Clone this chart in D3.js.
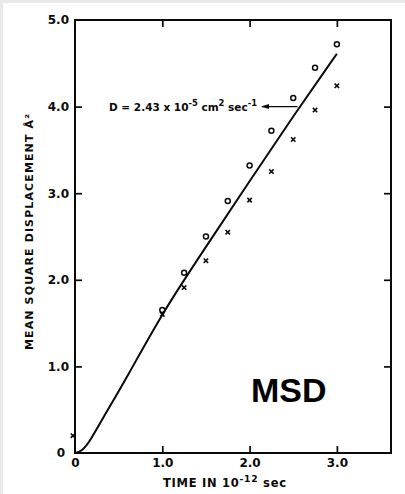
<!DOCTYPE html>
<html>
<head>
<meta charset="utf-8">
<script src="https://cdn.jsdelivr.net/npm/d3@7"></script>
<style>
  html, body { margin: 0; padding: 0; background: #ffffff; }
  svg { display: block; }
</style>
</head>
<body>
<svg id="chart" width="405" height="494"></svg>
<script>
// Mean square displacement vs. time (t in 10^-12 s, MSD in Å^2)
const sampleTimes = [1.0, 1.25, 1.5, 1.75, 2.0, 2.25, 2.5, 2.75, 3.0];
const msdCircles  = [1.65, 2.08, 2.50, 2.91, 3.32, 3.72, 4.10, 4.45, 4.72];
const msdCrosses  = [1.60, 1.91, 2.22, 2.55, 2.92, 3.25, 3.62, 3.96, 4.24];
const crossExtraTime = [0];
const crossExtraMsd  = [0.2];

// smooth computed curve
const curveTime = [0, 0.08, 0.18, 0.3, 0.6, 1.0, 1.5, 2.0, 2.5, 3.0];
const curveMsd  = [0, 0.02, 0.15, 0.37, 0.88, 1.62, 2.38, 3.14, 3.89, 4.61];

const xTickValues = [0, 1, 2, 3];
const xTickLabels = ["0", "1.0", "2.0", "3.0"];
const yTickValues = [0, 1, 2, 3, 4, 5];
const yTickLabels = ["0", "1.0", "2.0", "3.0", "4.0", "5.0"];

const xTitleParts = [["TIME  IN  10", 0], ["-12", 1], [" sec", 0]];
const yTitle = "MEAN  SQUARE  DISPLACEMENT  \u00C5\u00B2";
const noteParts = [["D = 2.43 x 10", 0], ["-5", 1], ["  cm", 0], ["2", 1], [" sec", 0], ["-1", 1]];
const noteTime = 2.55, noteMsd = 4.0;
const badge = "MSD";

const svg = d3.select("#chart");
const W = 405, H = 494;
const plotLeft = 75, plotRight = 391, plotTop = 20, plotBottom = 453;

// page edge
svg.append("rect").attr("x", 0).attr("y", 0).attr("width", W).attr("height", H).attr("fill", "#e9e9e9");
svg.append("rect").attr("x", 3).attr("y", 3).attr("width", W - 3).attr("height", H - 3).attr("fill", "#ffffff");

const x = d3.scaleLinear().domain([0, 3.62]).range([plotLeft, plotRight]);
const y = d3.scaleLinear().domain([0, 5]).range([plotBottom, plotTop]);

const ink = "#0a0a0a";
const tickFont = "DejaVu Sans, sans-serif";

function styleAxis(g) {
  g.select(".domain").remove();
  g.selectAll(".tick line").attr("stroke", ink).attr("stroke-width", 1.7);
  g.selectAll(".tick text").attr("fill", ink).style("font-family", tickFont)
    .style("font-size", "12px").style("font-weight", "bold");
}

// bottom axis with labels
svg.append("g").attr("transform", `translate(0,${plotBottom})`)
  .call(d3.axisBottom(x).tickValues(xTickValues).tickSizeInner(-7).tickSizeOuter(0).tickPadding(5)
    .tickFormat((d, i) => xTickLabels[i]))
  .call(styleAxis)
  .call(g => g.selectAll(".tick").filter(d => d === 0).select("line").remove());

// left axis with labels
svg.append("g").attr("transform", `translate(${plotLeft},0)`)
  .call(d3.axisLeft(y).tickValues(yTickValues).tickSizeInner(-7).tickSizeOuter(0).tickPadding(6)
    .tickFormat((d, i) => yTickLabels[i]))
  .call(styleAxis)
  .call(g => g.selectAll(".tick").filter(d => d === 0 || d === 5).select("line").remove())
  .call(g => g.selectAll(".tick").filter(d => d === 0).select("text").attr("x", -10));

// top and right axes, ticks only
svg.append("g").attr("transform", `translate(0,${plotTop})`)
  .call(d3.axisTop(x).tickValues([1, 2, 3]).tickSizeInner(-7).tickSizeOuter(0).tickFormat(""))
  .call(styleAxis);
svg.append("g").attr("transform", `translate(${plotRight},0)`)
  .call(d3.axisRight(y).tickValues([1, 2, 3, 4]).tickSizeInner(-7).tickSizeOuter(0).tickFormat(""))
  .call(styleAxis);

// frame
svg.append("rect").attr("x", plotLeft).attr("y", plotTop)
  .attr("width", plotRight - plotLeft).attr("height", plotBottom - plotTop)
  .attr("fill", "none").attr("stroke", ink).attr("stroke-width", 2);

// curve
const curvePts = curveTime.map((t, i) => [t, curveMsd[i]]);
svg.append("path").datum(curvePts)
  .attr("d", d3.line().x(d => x(d[0])).y(d => y(d[1])).curve(d3.curveBasis))
  .attr("fill", "none").attr("stroke", ink).attr("stroke-width", 2);

// circles
svg.append("g").selectAll("circle").data(sampleTimes.map((t, i) => [t, msdCircles[i]]))
  .join("circle")
  .attr("cx", d => x(d[0])).attr("cy", d => y(d[1])).attr("r", 2.5)
  .attr("fill", "none").attr("stroke", ink).attr("stroke-width", 1.5);

// crosses
const crossPts = sampleTimes.map((t, i) => [t, msdCrosses[i]])
  .concat(crossExtraTime.map((t, i) => [t, crossExtraMsd[i]]));
svg.append("g").selectAll("path").data(crossPts)
  .join("path")
  .attr("d", d => {
    const cx = x(d[0]) - (d[0] === 0 ? 2 : 0), cy = y(d[1]), s = 2.2;
    return `M${cx - s},${cy - s}L${cx + s},${cy + s}M${cx - s},${cy + s}L${cx + s},${cy - s}`;
  })
  .attr("stroke", ink).attr("stroke-width", 1.6).attr("fill", "none");

// text with raised exponents
function richText(parts, attrs, size) {
  const t = svg.append("text").attr("fill", ink)
    .style("font-family", tickFont).style("font-size", size + "px").style("font-weight", "bold");
  Object.entries(attrs).forEach(([k, v]) => t.attr(k, v));
  let raised = false;
  parts.forEach(([s, sup]) => {
    const sp = t.append("tspan").text(s);
    if (sup && !raised) { sp.attr("dy", -size * 0.45).style("font-size", (size * 0.8) + "px"); raised = true; }
    else if (!sup && raised) { sp.attr("dy", size * 0.45); raised = false; }
    else if (sup) sp.style("font-size", (size * 0.8) + "px");
  });
  return t;
}

// annotation with arrow
const noteX = x(noteTime), noteY = y(noteMsd);
richText(noteParts, { x: 109, y: noteY + 4, textLength: 148, lengthAdjust: "spacing" }, 10.5);
svg.append("line").attr("x1", 262).attr("x2", noteX).attr("y1", noteY).attr("y2", noteY)
  .attr("stroke", ink).attr("stroke-width", 1.3);
svg.append("path").attr("d", `M261,${noteY}l8,-2.5l0,5z`).attr("fill", ink);

// axis titles
richText(xTitleParts, { x: 163, y: 487, textLength: 123, lengthAdjust: "spacing" }, 11.5);
svg.append("text").attr("transform", "translate(33,232) rotate(-90)").attr("text-anchor", "middle")
  .attr("fill", ink).style("font-family", tickFont).style("font-size", "11px").style("font-weight", "bold")
  .attr("textLength", 236).attr("lengthAdjust", "spacing")
  .text(yTitle);

// badge
svg.append("text").attr("x", 251).attr("y", 402)
  .attr("fill", "#000").style("font-family", "Liberation Sans, Arial, sans-serif")
  .style("font-size", "34px").style("font-weight", "bold")
  .text(badge);
</script>
</body>
</html>
